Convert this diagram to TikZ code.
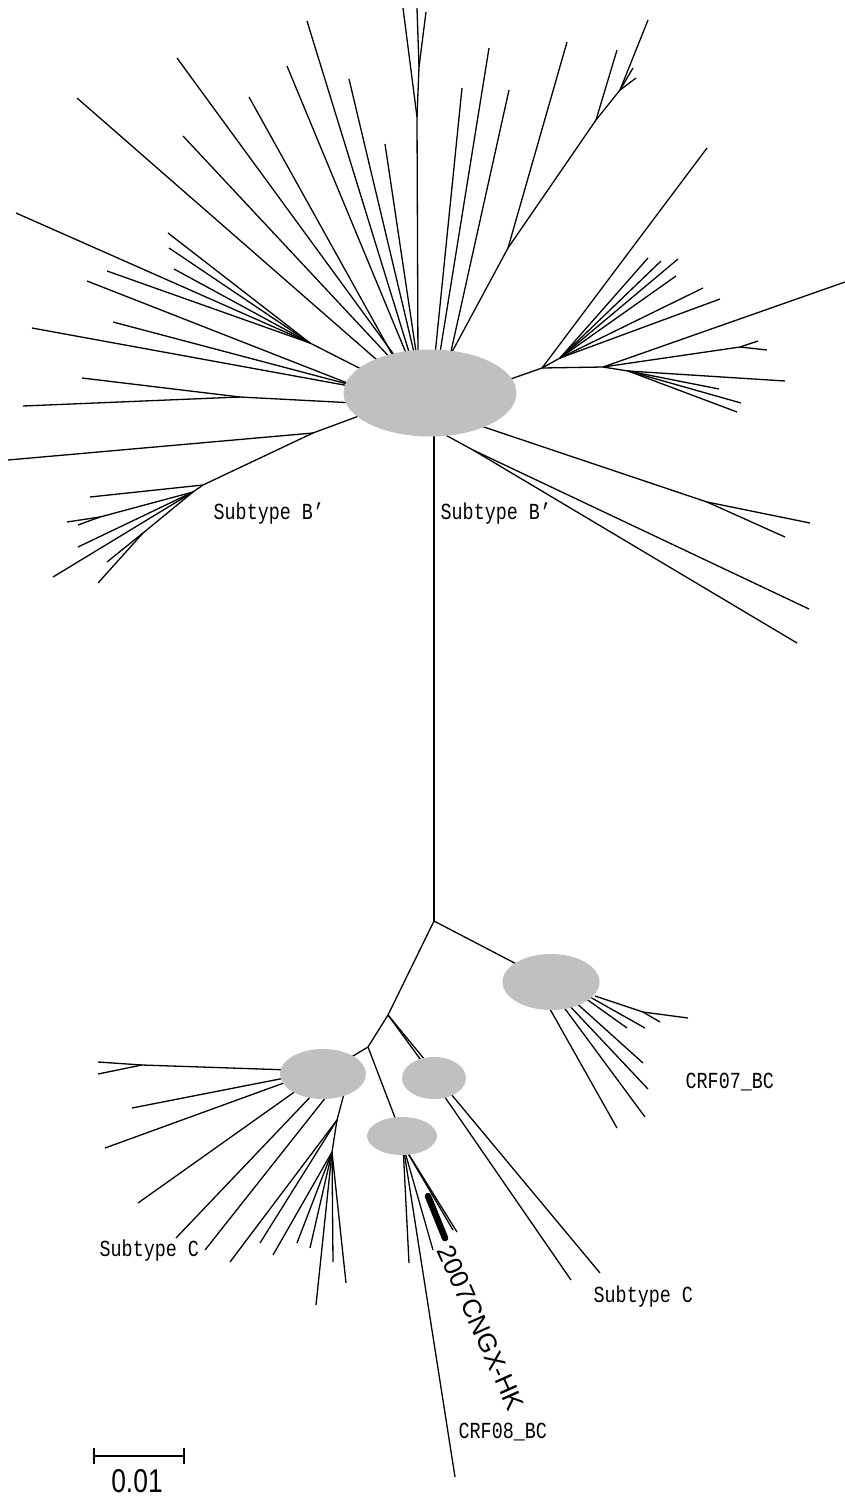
\documentclass[tikz,border=0pt]{standalone}
\usepackage{fontspec}
\usepackage{tikz}
\usetikzlibrary{calc, shapes.geometric}

\newfontfamily\cladefont[FakeStretch=0.8]{Liberation Mono}
\newfontfamily\seqfont{Liberation Sans}
\newfontfamily\barfont[FakeStretch=0.8]{Liberation Sans}
\definecolor{cladegray}{RGB}{192,192,192}

\begin{document}
\begin{tikzpicture}[
  x=1pt, y=-1pt,
  clade/.style={ellipse, fill=cladegray, draw=none, inner sep=0pt},
  tag/.style={font=\cladefont\fontsize{23}{23}\selectfont, inner sep=0pt},
  every path/.style={line width=1.3pt}
]
\useasboundingbox (0,0) rectangle (845,1497);

% ── Cluster centres ──
\coordinate (hubB)  at (430,393);
\coordinate (hub07) at (551,982);
\coordinate (hubCr) at (434,1078);
\coordinate (hubCl) at (323,1074);
\coordinate (hub08) at (402,1136);

% ── Subtype B' : single leaves ──
\foreach \sx/\sy/\lx/\ly in {
  385/367/77/98, 395/363/183/136, 400/363/177/58, 398/365/249/97,
  411/365/287/66, 413/365/307/21, 417/365/349/79, 418/365/385/144,
  434/365/462/88, 438/365/489/48, 448/365/509/90,
  355/386/87/281, 355/386/113/322, 355/387/32/328}
  \draw (\sx,\sy) -- (\lx,\ly);

% ── Subtype B' : inner forks, top ──
\coordinate (t1) at (417,117);
\coordinate (t2) at (419,67);
\draw (418,365) -- (t1) -- (t2) -- (417,8);
\draw (t1) -- (403,8);
\draw (t2) -- (426,12);

\coordinate (r1) at (508,248);
\coordinate (r2) at (596,120);
\coordinate (r3) at (620,90);
\draw (445,365) -- (r1) -- (r2) -- (r3) -- (648,20);
\draw (r1) -- (567,42);
\draw (r2) -- (617,50);
\foreach \p in {(633,68),(636,78)} \draw (r3) -- \p;

% ── Subtype B' : inner forks, left ──
\coordinate (s1) at (310,343);
\draw (367,372) -- (s1);
\foreach \p in {(16,213),(168,233),(169,248),(174,269),(107,271)} \draw (s1) -- \p;

\coordinate (s2) at (240,397);
\draw (355,403) -- (s2);
\foreach \p in {(82,378),(23,406)} \draw (s2) -- \p;

\coordinate (s3) at (313,433);
\coordinate (s4) at (203,485);
\coordinate (s5) at (193,492);
\coordinate (s6) at (100,517);
\coordinate (s7) at (143,533);
\draw (367,413) -- (s3) -- (8,460);
\draw (s3) -- (s4) -- (90,497);
\draw (s4) -- (s5) -- (s6) -- (67,522);
\draw (s6) -- (78,525);
\foreach \p in {(78,547),(53,577)} \draw (s5) -- \p;
\draw (s5) -- (s7) -- (107,562);
\draw (s7) -- (98,583);

% ── Subtype B' : inner forks, right ──
\coordinate (r4) at (542,368);
\coordinate (r5) at (560,358);
\coordinate (r6) at (603,367);
\coordinate (r7) at (740,347);
\coordinate (r8) at (628,371);
\draw (505,381) -- (r4) -- (707,148);
\draw (r4) -- (r5);
\foreach \p in {(648,258),(661,261),(678,259),(676,276),(703,288),(720,299)} \draw (r5) -- \p;
\draw (r4) -- (r6) -- (845,282);
\draw (r6) -- (r7) -- (758,341);
\draw (r7) -- (767,350);
\draw (r6) -- (r8);
\foreach \p in {(785,381),(719,389),(741,403),(737,412)} \draw (r8) -- \p;

\coordinate (r9)  at (707,502);
\coordinate (r10) at (473,450);
\draw (475,424) -- (r9) -- (810,523);
\draw (r9) -- (785,537);
\draw (440,432) -- (r10) -- (809,609);
\draw (r10) -- (797,643);

% ── Trunk and lower forks ──
\coordinate (j0) at (434,921);
\coordinate (j1) at (388,1015);
\coordinate (j2) at (368,1047);
\draw (434,430) -- (j0);
\draw (j0) -- (hub07);
\draw (j0) -- (j1) -- (j2) -- (hubCl);
\draw (j1) -- (hubCr);
\draw (j1) -- ($(hubCr)+(5,-1)$);
\draw (j2) -- (hub08);

% ── CRF07_BC leaves ──
\foreach \sx/\sy/\lx/\ly in {
  546/1002/617/1128, 560/1002/645/1117, 566/1002/648/1089,
  573/1000/643/1063, 585/998/627/1028, 590/997/645/1028}
  \draw (\sx,\sy) -- (\lx,\ly);
\coordinate (n7) at (643,1012);
\draw (595,996) -- (n7) -- (660,1022);
\draw (n7) -- (688,1018);

% ── Subtype C (left) leaves ──
\foreach \sx/\sy/\lx/\ly in {
  290/1077/132/1108, 292/1080/105/1148, 300/1088/138/1203,
  315/1092/176/1238, 330/1092/205/1250}
  \draw (\sx,\sy) -- (\lx,\ly);
\coordinate (cla) at (142,1065);
\draw (290,1070) -- (cla) -- (98,1062);
\draw (cla) -- (98,1074);
\coordinate (n1) at (337,1120);
\coordinate (n2) at (332,1152);
\draw (345,1090) -- (n1) -- (n2);
\foreach \p in {(230,1262),(260,1243)} \draw (n1) -- \p;
\foreach \p in {(273,1255),(297,1243),(310,1248),(316,1305),(333,1262),(346,1283)} \draw (n2) -- \p;

% ── Subtype C (right) leaves ──
\draw (440,1090) -- (571,1280);
\draw (446,1088) -- (600,1273);

% ── CRF08_BC leaves ──
\foreach \p in {(409,1263),(433,1250),(455,1477),(457,1232),(453,1230)} \draw (403,1145) -- \p;
\draw[line width=6.5pt, line cap=round] (428,1196) -- (445,1238);

% ── Cluster ellipses ──
\node[clade, minimum width=173pt, minimum height=87pt] (cladeB)  at (hubB)  {};
\node[clade, minimum width=97pt,  minimum height=56pt] (clade07) at (hub07) {};
\node[clade, minimum width=64pt,  minimum height=42pt] (cladeCr) at (hubCr) {};
\node[clade, minimum width=86pt,  minimum height=50pt] (cladeCl) at (hubCl) {};
\node[clade, minimum width=70pt,  minimum height=38pt] (clade08) at (hub08) {};

% ── Labels ──
\node[tag, anchor=west] (labBl) at (213,514)  {Subtype B’};
\node[tag, anchor=west] (labBr) at (440,514)  {Subtype B’};
\node[tag, anchor=west] (lab07) at (685,1082) {CRF07\_BC};
\node[tag, anchor=west] (labCl) at (99,1251)  {Subtype C};
\node[tag, anchor=west] (labCr) at (593,1297) {Subtype C};
\node[tag, anchor=west] (lab08) at (458,1432) {CRF08\_BC};
\node[font=\seqfont\fontsize{26}{26}\selectfont, rotate=-66, inner sep=0pt] (labSeq) at (481,1328) {2007CNGX-HK};

% ── Scale bar ──
\coordinate (barL) at (94,1456);
\coordinate (barR) at (184,1456);
\draw[line width=1.6pt] (barL) -- (barR);
\draw[line width=1.6pt] ([yshift=8pt]barL) -- ([yshift=-8pt]barL);
\draw[line width=1.6pt] ([yshift=8pt]barR) -- ([yshift=-8pt]barR);
\node[font=\barfont\fontsize{33}{33}\selectfont, inner sep=0pt] (barText) at (137,1481) {0.01};
\end{tikzpicture}
\end{document}
